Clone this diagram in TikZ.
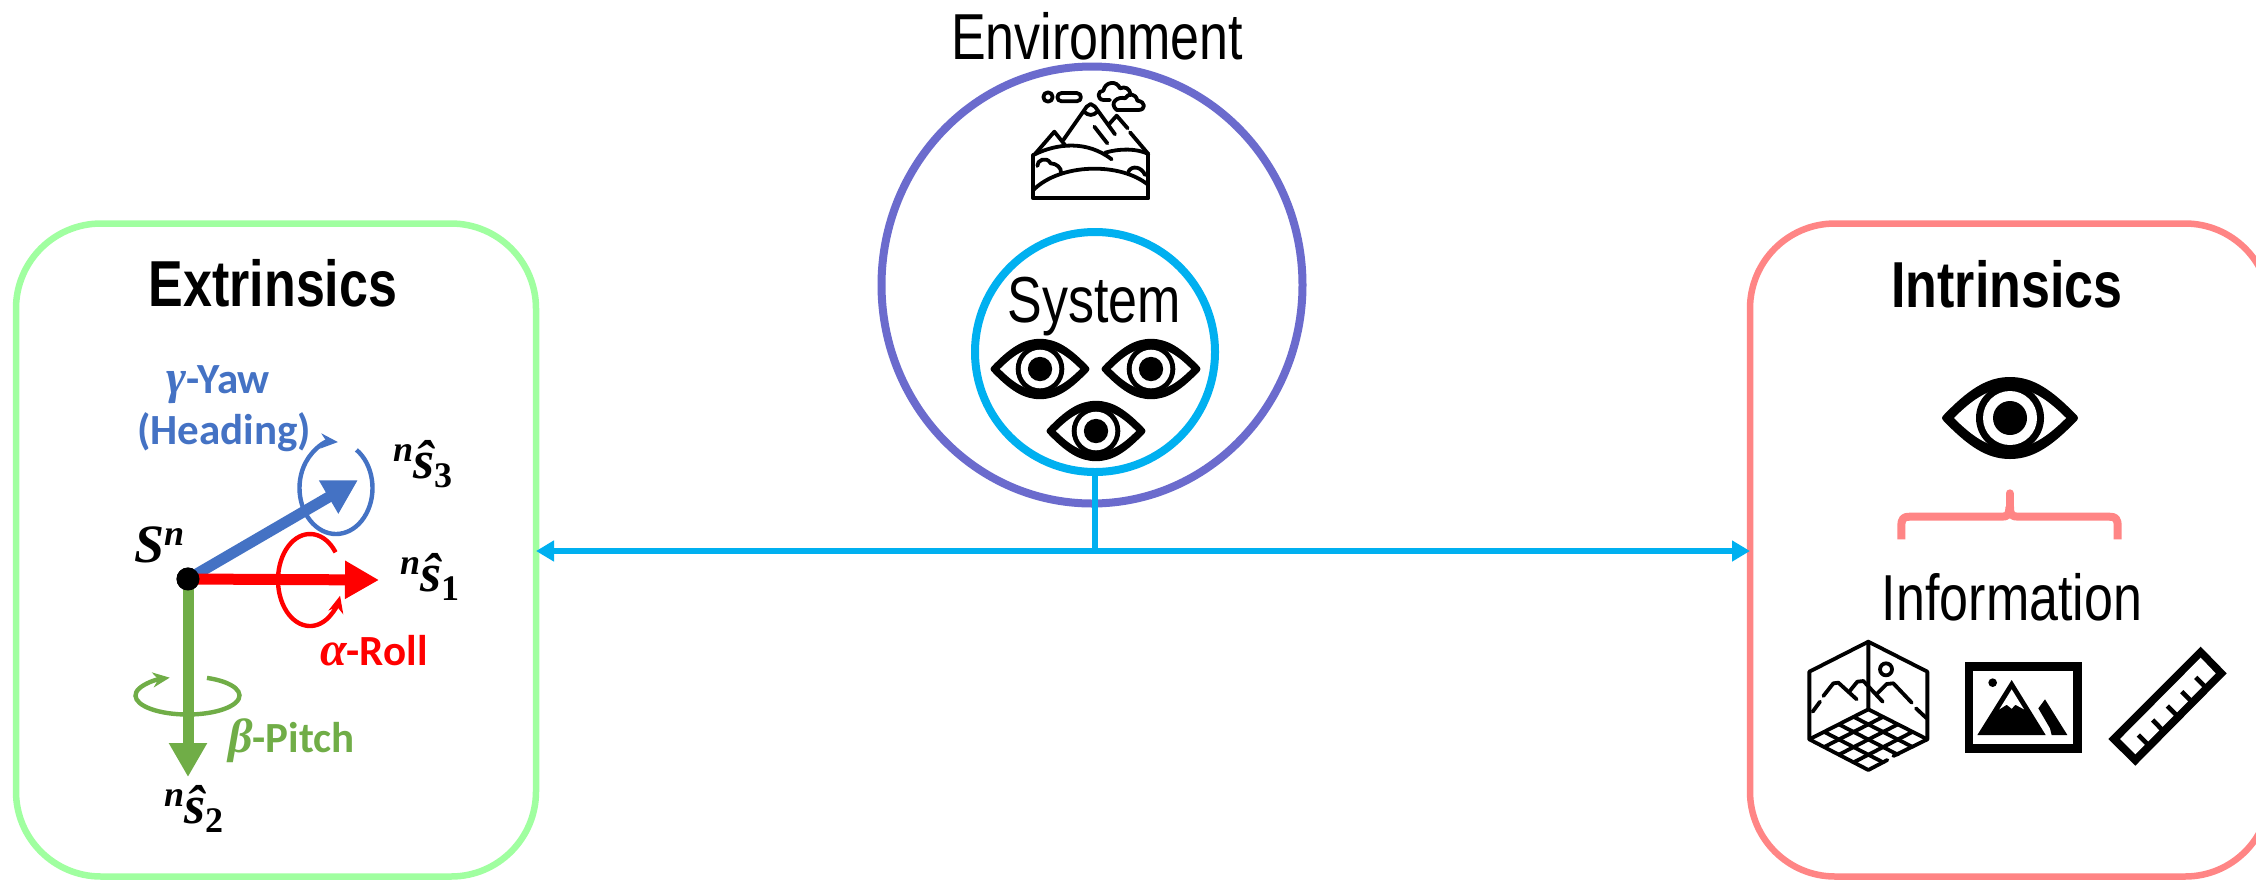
\documentclass[tikz,border=0pt]{standalone}
\usepackage{fontspec}
\usetikzlibrary{arrows.meta,calc,shapes.geometric}
\setmainfont{Liberation Sans}
\newfontfamily\condfont[FakeStretch=0.8]{Liberation Sans}
\newfontfamily\labelfont{Carlito}
\newfontfamily\symfont{Liberation Serif}
\definecolor{boxgreen}{HTML}{A0FFA0}
\definecolor{boxpink}{HTML}{FF8585}
\definecolor{envpurple}{HTML}{6B6BCD}
\definecolor{syscyan}{HTML}{00B0F0}
\definecolor{yawblue}{HTML}{4472C4}
\definecolor{pitchgreen}{HTML}{70AD47}
\definecolor{rollred}{HTML}{FF0000}
\newcommand{\hatvec}[1]{{\fontsize{36}{38}\selectfont\raisebox{17pt}{\symfont\bfseries\itshape n}}{\symfont\bfseries\itshape ŝ}{\fontsize{36}{38}\selectfont\raisebox{-9pt}{\symfont\bfseries #1}}}
\newcommand{\greekletter}[1]{{\symfont\bfseries\itshape\fontsize{48}{50}\selectfont #1}}
\tikzset{
  x=1pt,y=-1pt,
  titletext/.style={anchor=base,inner sep=0pt,font=\condfont\fontsize{65}{68}\selectfont},
  headtext/.style={anchor=base,inner sep=0pt,font=\condfont\bfseries\fontsize{65}{68}\selectfont},
  rolltext/.style={anchor=base west,inner sep=0pt,font=\labelfont\bfseries\fontsize{43}{46}\selectfont},
  mathtext/.style={anchor=base west,inner sep=0pt,font=\fontsize{54}{58}\selectfont},
  panel/.style={draw,line width=6.5pt,rectangle,rounded corners=85pt,minimum width=520pt,minimum height=653pt,outer sep=0pt,inner sep=0pt},
  axisarrow/.style={line width=11pt,-{Triangle[length=34pt,width=36pt]}},
  rotarrow/.style={line width=4.4pt,-{Stealth[length=17pt,width=15pt]}},
  iconline/.style={line width=3.8pt,line cap=round,line join=round,black},
  link/.style={syscyan,line width=6pt},
  eyeicon/.pic={
    \draw[black,fill=black,line width=6pt,line join=round] (-65,0) .. controls (-40,-26) and (-22,-38) .. (0,-38) .. controls (22,-38) and (40,-26) .. (65,0) .. controls (40,26) and (22,38) .. (0,38) .. controls (-22,38) and (-40,26) .. (-65,0) -- cycle;
    \fill[white] (-56,0) .. controls (-36,-20) and (-20,-30) .. (0,-30) .. controls (20,-30) and (36,-20) .. (56,0) .. controls (36,20) and (20,30) .. (0,30) .. controls (-20,30) and (-36,20) .. (-56,0) -- cycle;
    \fill[black] (0,0) circle[radius=34pt];
    \fill[white] (0,0) circle[radius=27pt];
    \fill[black] (0,0) circle[radius=17pt];
  }
}
\begin{document}
\begin{tikzpicture}
\useasboundingbox (0,0) rectangle (2256,879);
\clip (0,0) rectangle (2256,879);
\fill[white] (0,0) rectangle (2256,879);

% panels and circles
\node[panel,draw=boxgreen] (extr) at (276,550) {};
\node[panel,draw=boxpink] (intr) at (2010,550) {};
\node[draw=envpurple,line width=8pt,ellipse,minimum width=421pt,minimum height=437pt,inner sep=0pt,outer sep=0pt] (env) at (1092,285) {};
\node[draw=syscyan,line width=8pt,circle,minimum size=240pt,inner sep=0pt,outer sep=0pt] (sys) at (1095,352) {};

% connectors
\coordinate (junction) at (1095,551);
\draw[link] (sys.south) -- (junction);
\draw[link,{Triangle[length=18pt,width=20pt]}-{Triangle[length=18pt,width=20pt]}] (extr.east |- junction) -- (intr.west |- junction);

% titles
\node[titletext] (envt) at (1097,59) {Environment};
\node[titletext] (syst) at (1094.5,322) {System};
\node[titletext] (info) at (2012,620) {Information};
\node[headtext] (ext) at (273,306) {Extrinsics};
\node[headtext] (int) at (2007,307) {Intrinsics};

% eyes
\pic (eye1) at (1040,369) [scale=.715] {eyeicon};
\pic (eye2) at (1151,369) [scale=.715] {eyeicon};
\pic (eye3) at (1096,431) [scale=.715] {eyeicon};
\pic (eye4) at (2010,418) {eyeicon};

% mountain icon
\begin{scope}[shift={(860,0)},scale=1/3]
  \draw[iconline] (520,465) -- (520,595) -- (865,595) -- (865,465);
  \draw[iconline] (525,462) -- (583,395) -- (615,435);
  \draw[iconline] (610,420) -- (680,320) -- (692,312) -- (705,320) -- (765,403);
  \draw[iconline] (672,335) .. controls (685,348) and (700,348) .. (712,335);
  \draw[iconline] (745,375) -- (770,347) -- (803,385);
  \draw[iconline] (810,397) -- (865,462);
  \draw[iconline] (703,380) -- (742,430);
  \draw[iconline] (520,465) .. controls (590,430) and (680,420) .. (755,478);
  \draw[iconline] (735,458) .. controls (780,445) and (830,445) .. (865,462);
  \draw[iconline] (520,570) .. controls (600,490) and (780,485) .. (865,555);
  \draw[iconline] (532,498) .. controls (530,480) and (560,468) .. (572,490) .. controls (590,490) and (605,505) .. (603,518);
  \draw[iconline] (805,515) .. controls (815,495) and (845,500) .. (855,525);
  \draw[iconline] (564,291) circle[radius=14];
  \draw[iconline] (605,279) -- (650,279) .. controls (667,279) and (667,304) .. (650,304) -- (605,304) .. controls (588,304) and (588,279) .. (605,279) -- cycle;
  \draw[iconline] (750,300) -- (730,300) .. controls (710,298) and (712,272) .. (730,272) .. controls (735,245) and (770,240) .. (780,265) .. controls (795,258) and (810,265) .. (812,285);
  \draw[iconline,fill=white] (770,330) -- (835,330) .. controls (858,330) and (858,305) .. (832,302) .. controls (828,280) and (805,278) .. (795,295) .. controls (775,288) and (745,308) .. (770,330) -- cycle;
\end{scope}

% brace
\begin{scope}[shift={(1740,210)},scale=1/3]
  \draw[boxpink,line width=8pt,line join=round] (484,988) -- (484,950) .. controls (484,925) and (490,920) .. (510,920) -- (785,920) .. controls (803,920) and (808,915) .. (808,890);
  \draw[boxpink,line width=8pt,line join=round] (1133,988) -- (1133,950) .. controls (1133,925) and (1127,920) .. (1107,920) -- (835,920) .. controls (815,920) and (810,915) .. (810,890);
  \draw[boxpink,line width=8pt,line cap=round] (809,895) -- (809,850);
\end{scope}

% information icons
\begin{scope}[shift={(1740,620)},scale=1/3]
  \coordinate (fa) at (385,268);
  \coordinate (fb) at (562,358);
  \coordinate (fc) at (385,450);
  \coordinate (fd) at (208,358);
  \draw[iconline] (442,420) -- (fc) -- (fd) -- (208,155) -- (385,65) -- (562,155) -- (fb) -- (460,408);
  \draw[iconline] (385,65) -- (fa);
  \draw[iconline] (fd) -- (fa) -- (fb);
  \foreach \t in {.25,.5,.75}{
    \draw[iconline] ($(fa)!\t!(fb)$) -- ($(fd)!\t!(fc)$);
    \draw[iconline] ($(fa)!\t!(fd)$) -- ($(fb)!\t!(fc)$);
  }
  \draw[iconline] (218,275) -- (240,245);
  \draw[iconline] (250,228) -- (280,190) -- (295,188) -- (350,238);
  \draw[iconline] (330,212) -- (352,185) -- (370,183) -- (428,245);
  \draw[iconline] (410,222) -- (440,192) -- (460,190) -- (515,248);
  \draw[iconline] (528,265) -- (560,295);
  \draw[iconline] (438,148) circle[radius=18];
  % picture
  \fill[black] (675,127) rectangle (1025,400);
  \fill[white] (700,153) rectangle (1000,373);
  \fill[black] (758,188) circle[radius=13];
  \fill[black,line join=round] (815,180) -- (917,345) -- (712,345) -- cycle;
  \fill[white] (815,208) -- (852,268) -- (826,254) -- (815,266) -- (800,254) -- (778,268) -- cycle;
  \fill[black] (915,238) -- (982,345) -- (935,345) -- (930,325) -- (895,265) -- cycle;
  % ruler
  \fill[black] (1382,80) -- (1460,160) -- (1186,437) -- (1105,357) -- cycle;
  \fill[white] (1382,113) -- (1427,160) -- (1186,403) -- (1140,357) -- cycle;
  \draw[black,line width=4.6pt] (1195,345) -- (1228,378);
  \draw[black,line width=4.6pt] (1238,300) -- (1272,335);
  \draw[black,line width=4.6pt] (1282,258) -- (1315,291);
  \draw[black,line width=4.6pt] (1325,215) -- (1358,248);
  \draw[black,line width=4.6pt] (1367,172) -- (1400,205);
\end{scope}

% axes
\node[circle,fill=black,minimum size=23pt,inner sep=0pt,outer sep=0pt] (origin) at (188,579) {};
\coordinate (tip3) at (358,480);
\coordinate (tip1) at (379,580);
\coordinate (tip2) at (188,777);
\draw[axisarrow,yawblue] (origin.center) -- (tip3);
\draw[axisarrow,rollred] (origin.center) -- (tip1);
\draw[axisarrow,pitchgreen] (origin.center) -- (tip2);
\node[circle,fill=black,minimum size=23pt,inner sep=0pt,outer sep=0pt] at (origin.center) {};

% rotation arcs
\coordinate (yawc) at (336,488);
\coordinate (rollc) at (310,580);
\coordinate (pitchc) at (187.5,695.5);
\draw[rotarrow,yawblue] ([shift={(56:36.5pt and 46pt)}]yawc) arc[start angle=56,end angle=-273,x radius=36.5pt,y radius=46pt];
\draw[rotarrow,rollred] ([shift={(37:32pt and 46pt)}]rollc) arc[start angle=37,end angle=340,x radius=32pt,y radius=46pt];
\draw[rotarrow,pitchgreen] ([shift={(68:52pt and 19pt)}]pitchc) arc[start angle=68,end angle=-250,x radius=52pt,y radius=19pt];

% labels
\node[rolltext,text=yawblue] (yaw) at (166,393) {\greekletter{γ}-Yaw};
\node[rolltext,text=yawblue] (head) at (137,444) {(Heading)};
\node[rolltext,text=rollred] (roll) at (320,665.6) {\greekletter{α}-Roll};
\node[rolltext,text=pitchgreen] (pitch) at (228,752.6) {\greekletter{β}-Pitch};
\node[mathtext] (sn) at (134,562) {{\symfont\bfseries\itshape S}{\fontsize{36}{38}\selectfont\raisebox{17pt}{\symfont\bfseries\itshape n}}};
\node[mathtext] (s3) at (393,478) {\hatvec{3}};
\node[mathtext] (s1) at (400,591) {\hatvec{1}};
\node[mathtext] (s2) at (164,823.5) {\hatvec{2}};
\end{tikzpicture}
\end{document}
